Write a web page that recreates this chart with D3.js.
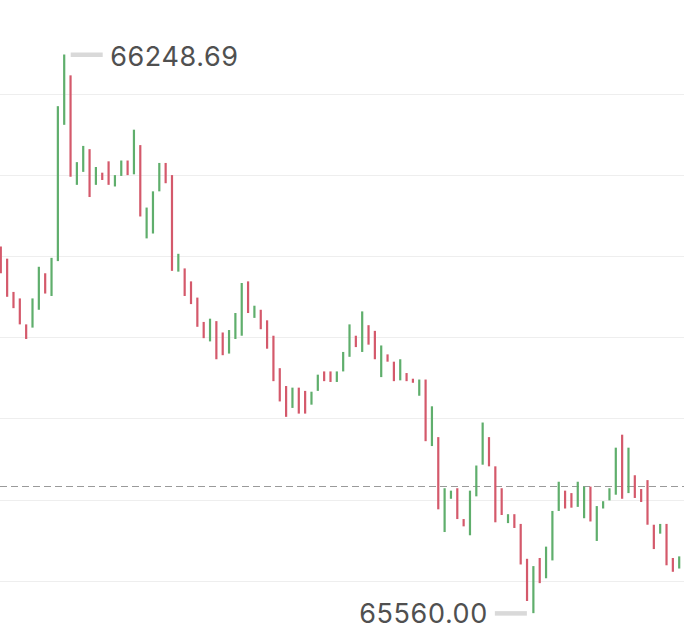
<!DOCTYPE html>
<html>
<head>
<meta charset="utf-8">
<script src="https://cdn.jsdelivr.net/npm/d3@7"></script>
<style>
  html, body { margin: 0; padding: 0; background: #fff; }
  svg { display: block; }
  .label { font-family: Inter, 'Noto Sans', sans-serif; font-size: 27px; letter-spacing: 0.6px; fill: #505050; }
</style>
</head>
<body>
<div id="main"></div>
<script>
// open / close per candle
const opens = [
  66012, 65997, 65956, 65948, 65916, 65912, 65934, 65979, 65951, 65994,
  66162, 66223, 66088, 66104, 66132, 66088, 66103, 66117, 66086, 66099,
  66118, 66101, 66137, 66022, 66028, 66080, 66115, 66100, 65981, 65985,
  65969, 65949, 65919, 65895, 65920, 65906, 65880, 65898, 65902, 65969,
  65924, 65934, 65921, 65902, 65862, 65840, 65813, 65838, 65834, 65817,
  65834, 65858, 65858, 65845, 65858, 65876, 65902, 65882, 65915, 65908,
  65851, 65879, 65870, 65847, 65856, 65849, 65828, 65848, 65766, 65777,
  65660, 65701, 65714, 65676, 65656, 65704, 65743, 65777, 65741, 65714,
  65671, 65682, 65670, 65627, 65560, 65628, 65603, 65625, 65686, 65711,
  65708, 65691, 65677, 65716, 65649, 65689, 65699, 65706, 65780, 65708,
  65730, 65713, 65724, 65669, 65658, 65670, 65628, 65615
]
const closes = [
  65979, 65950, 65936, 65916, 65898, 65948, 65987, 65954, 65998, 66185,
  66248.69, 66098, 66116, 66136, 66073, 66110, 66094, 66088, 66100, 66118,
  66100, 66156, 66049, 66060, 66080, 66115, 66090, 65982, 66003, 65951,
  65941, 65913, 65899, 65923, 65873, 65878, 65909, 65930, 65967, 65930,
  65939, 65910, 65886, 65846, 65821, 65802, 65838, 65806, 65806, 65833,
  65854, 65846, 65845, 65858, 65882, 65916, 65888, 65932, 65891, 65873,
  65890, 65870, 65846, 65873, 65846, 65844, 65848, 65772, 65815, 65688,
  65714, 65711, 65676, 65667, 65711, 65742, 65795, 65741, 65672, 65681,
  65682, 65665, 65620, 65575, 65618, 65597, 65642, 65686, 65722, 65689,
  65690, 65722, 65716, 65673, 65692, 65698, 65714, 65764, 65701, 65764,
  65702, 65697, 65669, 65639, 65670, 65619, 65611, 65630
]
const gridValues = [65600, 65700, 65800, 65900, 66000, 66100, 66200]
const lastPrice = 65716.6

const W = 684
const H = 634
const UP = '#5fae6c'
const DOWN = '#d4596b'

const candles = opens.map((o, i) => ({ i, o, c: closes[i] }))

const svg = d3.select('#main').append('svg')
  .attr('width', W)
  .attr('height', H)

const x = d3.scalePoint()
  .domain(d3.range(candles.length))
  .range([0.8, 679.2])

const y = d3.scaleLinear()
  .domain([65600, 66200])
  .range([580.7, 94])

// grid
svg.append('g').selectAll('line')
  .data(gridValues)
  .enter()
  .append('line')
  .attr('x1', 0)
  .attr('x2', W)
  .attr('y1', d => Math.round(y(d)) + 0.5)
  .attr('y2', d => Math.round(y(d)) + 0.5)
  .attr('stroke', '#eeeeee')
  .attr('stroke-width', 1)

// last price
svg.append('line')
  .attr('x1', 0)
  .attr('x2', W)
  .attr('y1', Math.round(y(lastPrice)) + 0.5)
  .attr('y2', Math.round(y(lastPrice)) + 0.5)
  .attr('stroke', '#9a9a9a')
  .attr('stroke-width', 1)
  .attr('stroke-dasharray', '7,4')

const barW = 2.2
svg.append('g').selectAll('rect')
  .data(candles)
  .enter()
  .append('rect')
  .attr('x', d => x(d.i) - barW / 2)
  .attr('y', d => y(Math.max(d.o, d.c)))
  .attr('width', barW)
  .attr('height', d => Math.max(1.5, Math.abs(y(d.o) - y(d.c))))
  .attr('fill', d => d.c >= d.o ? UP : DOWN)

// high / low markers
const hi = d3.greatest(candles, d => Math.max(d.o, d.c))
const lo = d3.least(candles, d => Math.min(d.o, d.c))
const hiV = Math.max(hi.o, hi.c)
const loV = Math.min(lo.o, lo.c)
const fmt = d3.format('.2f')

svg.append('rect')
  .attr('x', x(hi.i) + 6.5)
  .attr('y', y(hiV) - 2)
  .attr('width', 32)
  .attr('height', 4.5)
  .attr('fill', '#d9d9d9')

svg.append('text')
  .attr('class', 'label')
  .attr('x', x(hi.i) + 46)
  .attr('y', y(hiV) + 11)
  .attr('text-anchor', 'start')
  .text(fmt(hiV))

svg.append('rect')
  .attr('x', x(lo.i) - 38.5)
  .attr('y', y(loV) - 2)
  .attr('width', 32)
  .attr('height', 4.5)
  .attr('fill', '#d9d9d9')

svg.append('text')
  .attr('class', 'label')
  .attr('x', x(lo.i) - 45.5)
  .attr('y', y(loV) + 10)
  .attr('text-anchor', 'end')
  .text(fmt(loV))
</script>
</body>
</html>
